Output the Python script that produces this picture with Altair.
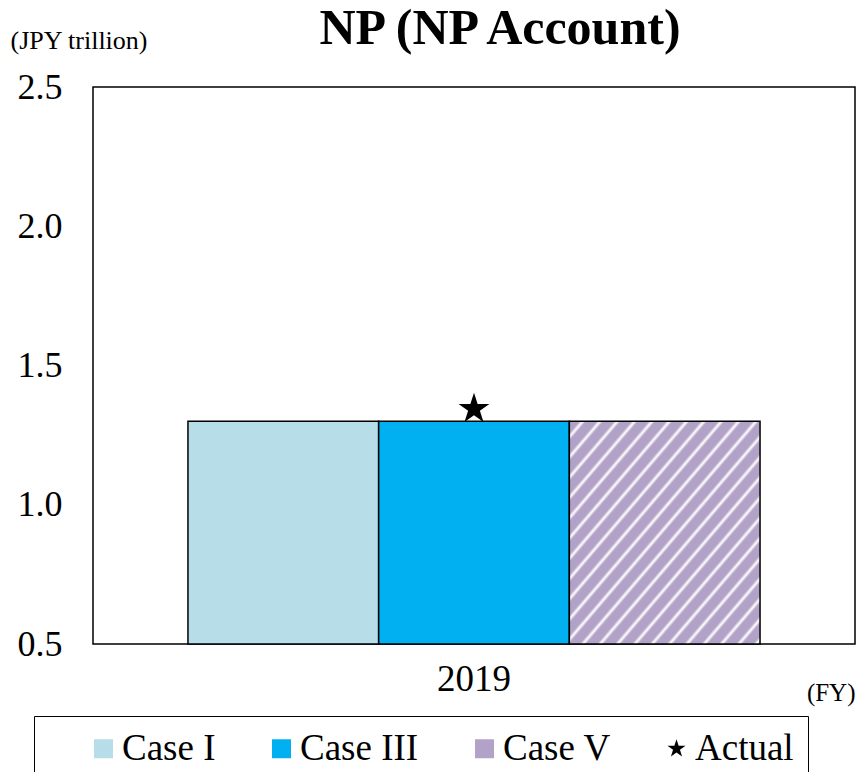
import altair as alt
import pandas as pd

years = ["2019"]
cases = ["Case I", "Case III", "Case V"]
case_values = [1.30, 1.30, 1.30]
actual_value = [1.344]
series_labels = ["Case I", "Case III", "Case V", "Actual"]
y_ticks = [0.5, 1.0, 1.5, 2.0, 2.5]

bars_df = pd.DataFrame({"year": years * 3, "case": cases, "value": case_values})
actual_df = pd.DataFrame({"year": years, "series": ["Actual"], "value": actual_value})

FONT = "Liberation Serif"
STAR = "M0,-1L0.2245,-0.309L0.9511,-0.309L0.3633,0.118L0.5878,0.809L0,0.382L-0.5878,0.809L-0.3633,0.118L-0.9511,-0.309L-0.2245,-0.309Z"

c1, c3, c5 = "#b7dde8", "#00b0f0", "#b3a2c7"

# diagonal stripes for Case V
n_per = 22
stops = []
for k in range(n_per):
    b = k / n_per
    w = 1 / n_per
    stops += [
        alt.GradientStop(offset=b, color=c5),
        alt.GradientStop(offset=b + 0.58 * w, color=c5),
        alt.GradientStop(offset=b + 0.78 * w, color="#ffffff"),
        alt.GradientStop(offset=min(b + 0.98 * w, 1.0), color=c5),
    ]
stripe = alt.Gradient(gradient="linear", stops=stops, x1=0, y1=0, x2=1, y2=1)

x_enc = alt.X(
    "year:N",
    scale=alt.Scale(paddingOuter=0.166, paddingInner=0),
    axis=alt.Axis(
        title="(FY)", labelAngle=0, ticks=False, domain=False, labelPadding=46,
        labelBaseline="alphabetic",
        labelFontSize=37, labelFont=FONT, labelColor="black",
        titleFontSize=25, titleFont=FONT, titleFontWeight="normal", titleColor="black",
        titleX=762, titleY=56, titleAlign="right", titleBaseline="alphabetic",
    ),
)
xo_enc = alt.XOffset("case:N", scale=alt.Scale(domain=cases, paddingInner=0, paddingOuter=0))
y_enc = alt.Y(
    "value:Q",
    scale=alt.Scale(domain=[0.5, 2.5], zero=False, nice=False),
    axis=alt.Axis(
        title="(JPY trillion)", values=y_ticks, format=".1f", ticks=False, domain=False, grid=False,
        labelPadding=31, labelFontSize=36, labelFont=FONT, labelColor="black", labelBaseline="middle",
        titleFontSize=26, titleFont=FONT, titleFontWeight="normal", titleColor="black",
        titleAngle=0, titleX=-83, titleY=-39, titleAlign="left", titleBaseline="alphabetic",
    ),
)

base = alt.Chart(bars_df).encode(x=x_enc, xOffset=xo_enc, y=y_enc, y2=alt.datum(0.5))
bar1 = base.transform_filter(alt.datum.case == "Case I").mark_bar(fill=c1, stroke="black", strokeWidth=1.5)
bar3 = base.transform_filter(alt.datum.case == "Case III").mark_bar(fill=c3, stroke="black", strokeWidth=1.5)
bar5 = base.transform_filter(alt.datum.case == "Case V").mark_bar(fill=stripe, stroke="black", strokeWidth=1.5)

legend = alt.Legend(
    title=None, orient="none", legendX=-59, legendY=629, direction="horizontal", columns=4,
    padding=14, strokeColor="black", fillColor="white", columnPadding=10, symbolOffset=37,
    labelFontSize=37, labelFont=FONT, labelColor="black", labelOffset=0,
    labelExpr="datum.label == 'Actual' ? datum.label + '\u2003' : datum.label",
    symbolSize=361, symbolStrokeColor="black", symbolStrokeWidth=1.5, symbolOpacity=1,
)
star = alt.Chart(actual_df).mark_point(filled=True, size=1050, opacity=1).encode(
    x=alt.X("year:N"),
    y=alt.Y("value:Q"),
    color=alt.Color("series:N", scale=alt.Scale(domain=series_labels, range=[c1, c3, c5, "black"]), legend=legend),
    shape=alt.Shape("series:N", scale=alt.Scale(domain=series_labels, range=["square", "square", "square", STAR]), legend=legend),
)

chart = alt.layer(bar1, bar3, bar5, star).properties(
    width=762, height=557,
    title=alt.Title("NP (NP Account)", fontSize=50, font=FONT, fontWeight="bold", color="black",
                    anchor="middle", dx=26, offset=-67, baseline="alphabetic"),
    autosize=alt.AutoSizeParams(type="none"),
    padding={"left": 85, "top": 79, "right": 1, "bottom": 128},
).configure(
    font=FONT, background="white",
    view=alt.ViewConfig(stroke="black", strokeWidth=1.5),
)

chart.save("out.html", embed_options={"renderer": "svg", "actions": False})
